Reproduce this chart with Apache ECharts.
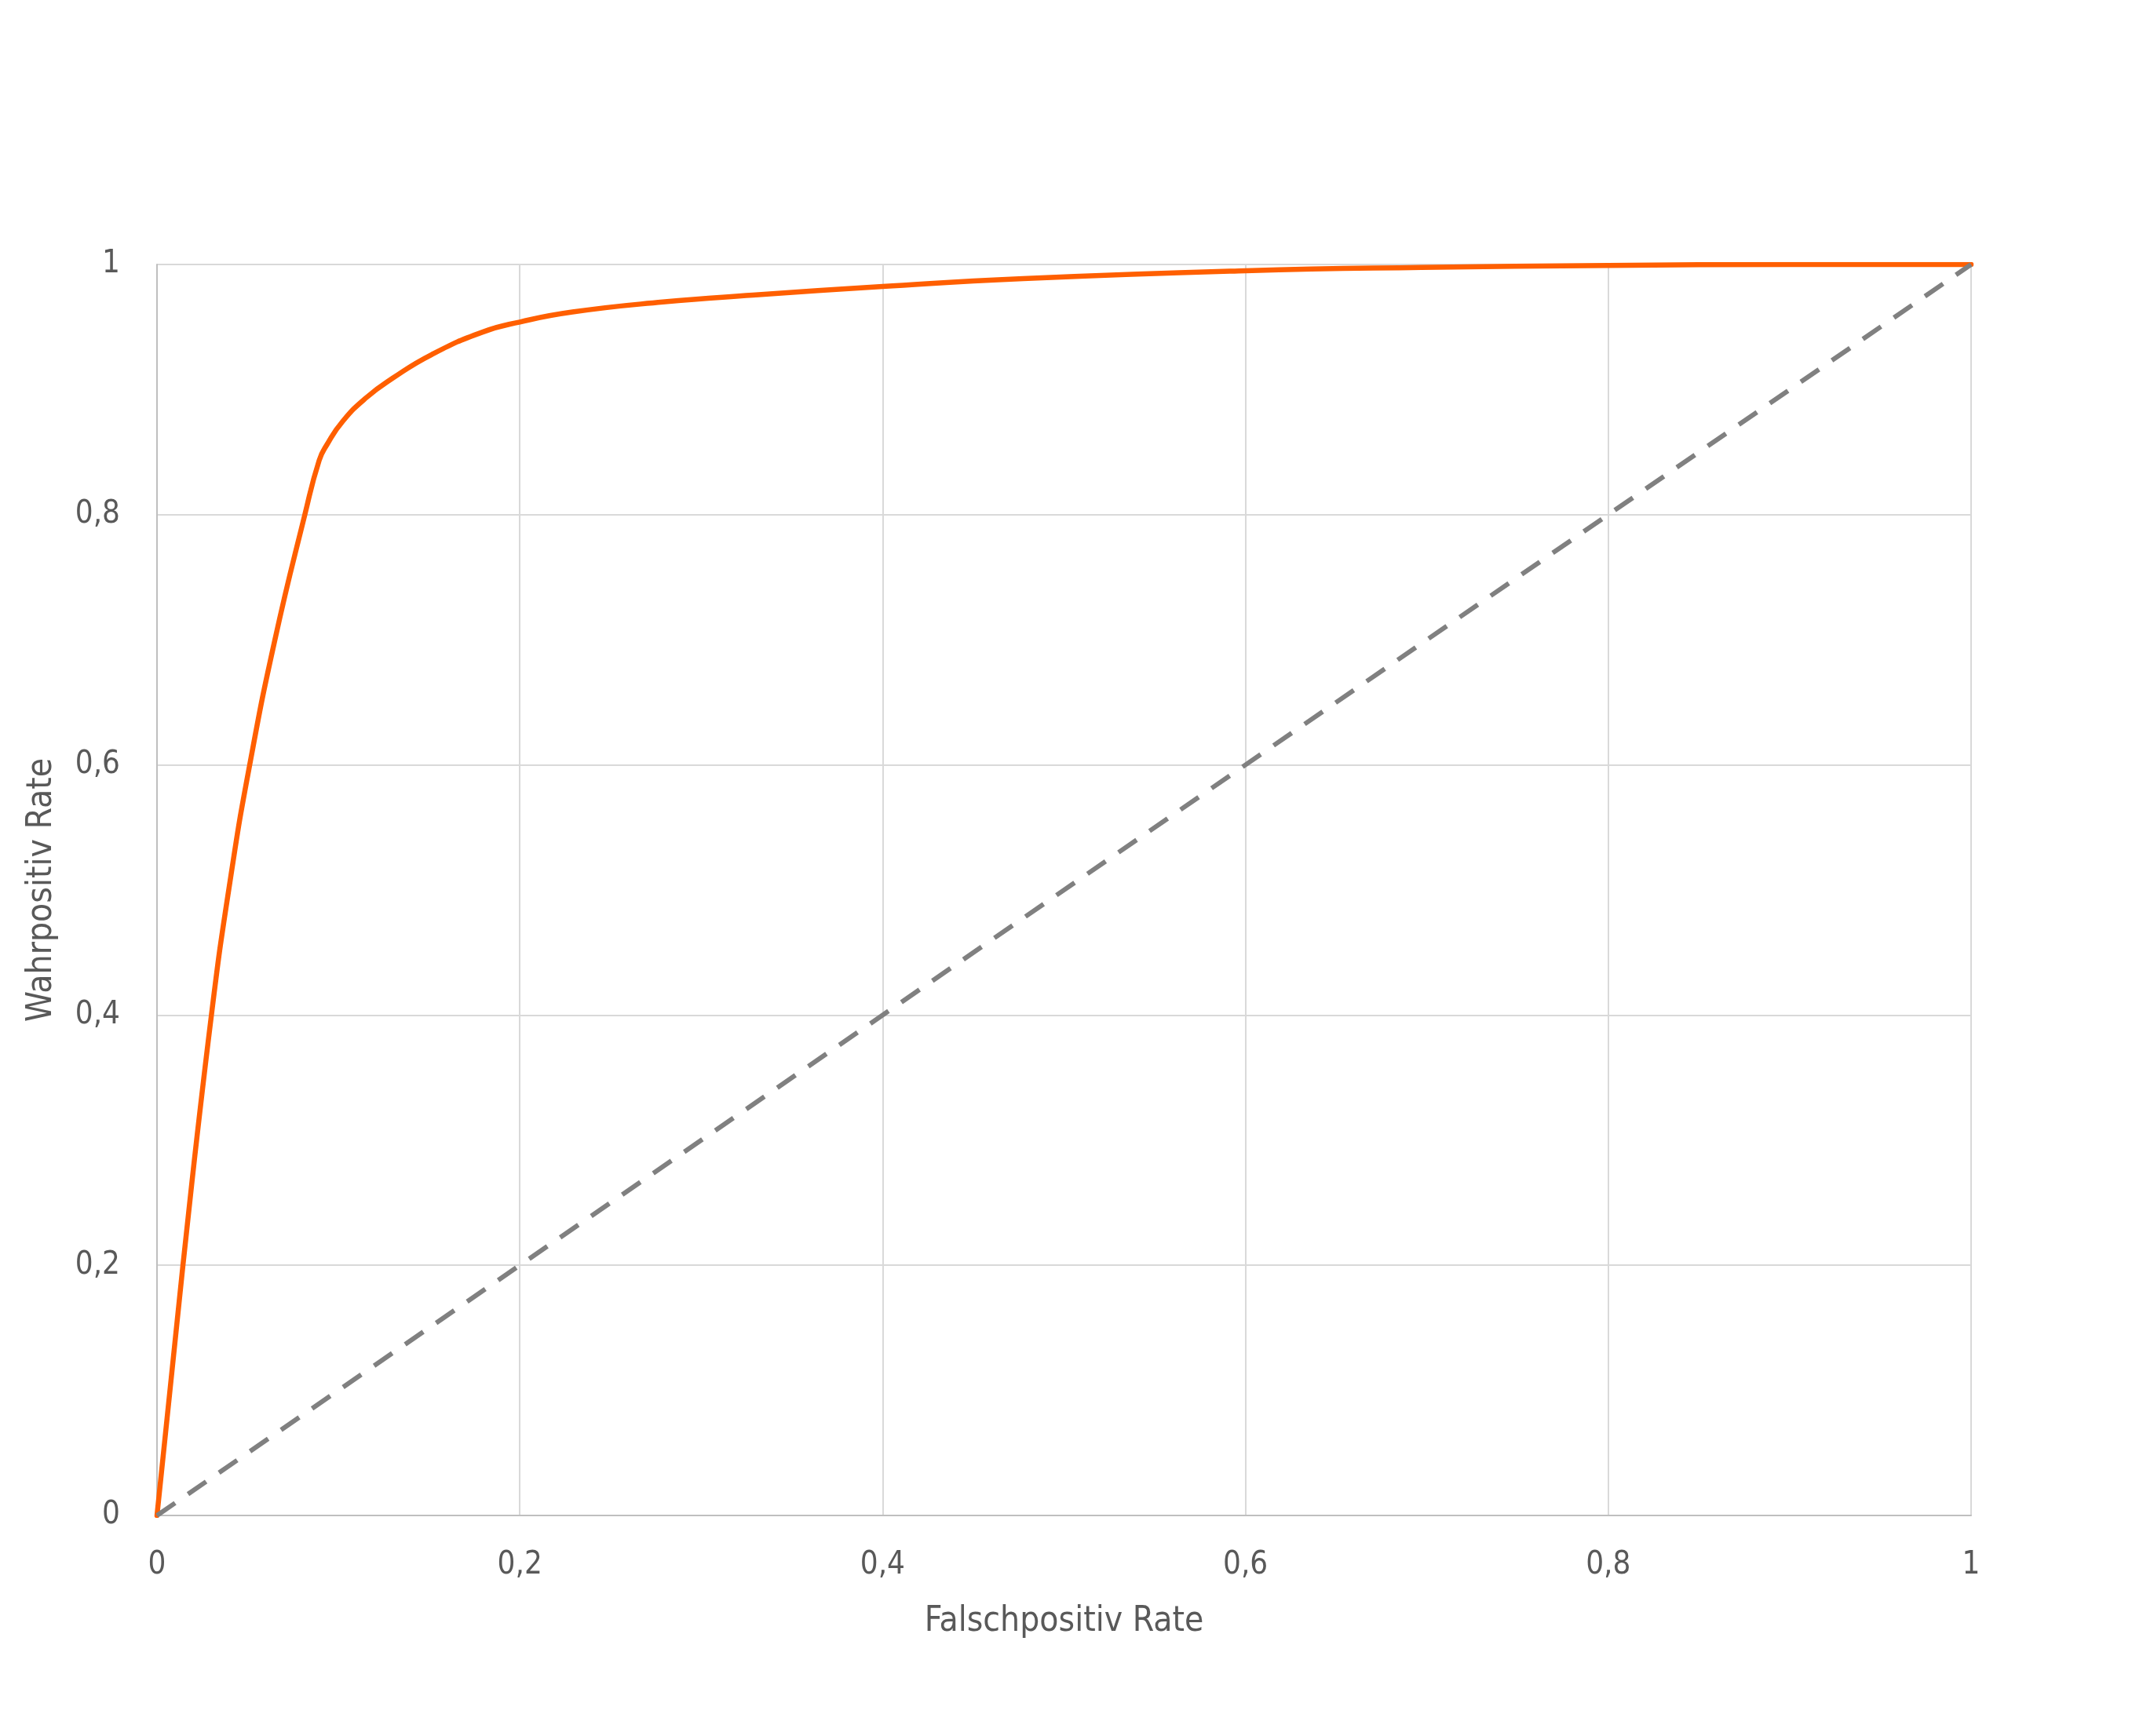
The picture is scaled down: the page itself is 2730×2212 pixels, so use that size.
<!DOCTYPE html>
<html>
<head>
<meta charset="utf-8">
<script src="https://cdn.jsdelivr.net/npm/echarts@6/dist/echarts.min.js"></script>
<style>
html,body{margin:0;padding:0;background:#fff;}
#chart{width:2730px;height:2212px;}
</style>
</head>
<body>
<div id="chart"></div>
<script>
// ROC curve: false positive rate (x) vs true positive rate (y)
const rocFpr = [0, 0.0143, 0.030, 0.0407, 0.0511, 0.065, 0.0815, 0.0894, 0.0937, 0.1024, 0.1154, 0.1298, 0.1514, 0.1795, 0.2, 0.229, 0.2788, 0.3285, 0.4, 0.4775, 0.6, 0.697, 0.8, 0.9, 1];
const rocTpr = [0, 0.2, 0.4, 0.511, 0.6, 0.70, 0.8, 0.8434, 0.856, 0.8747, 0.8936, 0.909, 0.928, 0.946, 0.954, 0.962, 0.970, 0.9755, 0.9824, 0.9887, 0.995, 0.9977, 0.9992, 1.0, 1.0];
// Reference diagonal (random classifier)
const diagX = [0, 1];
const diagY = [0, 1];
// Tick labels
const xTickValues = [0, 0.2, 0.4, 0.6, 0.8, 1];
const xTickLabels = ['0', '0,2', '0,4', '0,6', '0,8', '1'];
const yTickValues = [0, 0.2, 0.4, 0.6, 0.8, 1];
const yTickLabels = ['0', '0,2', '0,4', '0,6', '0,8', '1'];
const xAxisTitle = 'Falschpositiv Rate';
const yAxisTitle = 'Wahrpositiv Rate';

const FONT = "'Liberation Sans Narrow', 'DejaVu Sans Condensed', 'Noto Sans', sans-serif";
const TEXT = '#595959';

function labelFor(values, labels) {
  return function (v) {
    for (let i = 0; i < values.length; i++) {
      if (Math.abs(values[i] - v) < 1e-9) return labels[i];
    }
    return '';
  };
}

const chart = echarts.init(document.getElementById('chart'), null, {renderer: 'canvas'});
chart.setOption({
  backgroundColor: '#ffffff',
  animation: false,
  grid: {left: 200, right: 219, top: 337, bottom: 281, containLabel: false},
  xAxis: {
    type: 'value', min: 0, max: 1, interval: 0.2,
    name: xAxisTitle, nameLocation: 'middle', nameGap: 114,
    nameTextStyle: {fontFamily: FONT, fontSize: 44, color: TEXT},
    axisLine: {show: true, onZero: false, lineStyle: {color: '#bfbfbf', width: 2}},
    axisTick: {show: false},
    axisLabel: {fontFamily: FONT, fontSize: 40, color: TEXT, margin: 44,
      formatter: labelFor(xTickValues, xTickLabels)},
    splitLine: {show: true, lineStyle: {color: '#d9d9d9', width: 2}}
  },
  yAxis: {
    type: 'value', min: 0, max: 1, interval: 0.2,
    name: yAxisTitle, nameLocation: 'middle', nameGap: 124, nameRotate: 90,
    nameTextStyle: {fontFamily: FONT, fontSize: 44, color: TEXT},
    axisLine: {show: true, onZero: false, lineStyle: {color: '#bfbfbf', width: 2}},
    axisTick: {show: false},
    axisLabel: {fontFamily: FONT, fontSize: 40, color: TEXT, margin: 47,
      formatter: labelFor(yTickValues, yTickLabels)},
    splitLine: {show: true, lineStyle: {color: '#d9d9d9', width: 2}}
  },
  series: [
    {
      type: 'line',
      data: rocFpr.map((x, i) => [x, rocTpr[i]]),
      showSymbol: false, symbol: 'none',
      smooth: 0.5,
      lineStyle: {color: '#ff5f00', width: 6.5, cap: 'round', join: 'round'},
      z: 2
    },
    {
      type: 'line',
      data: diagX.map((x, i) => [x, diagY[i]]),
      showSymbol: false, symbol: 'none',
      lineStyle: {color: '#808080', width: 6, type: [28, 20], cap: 'butt'},
      z: 3
    }
  ]
});
</script>
</body>
</html>
